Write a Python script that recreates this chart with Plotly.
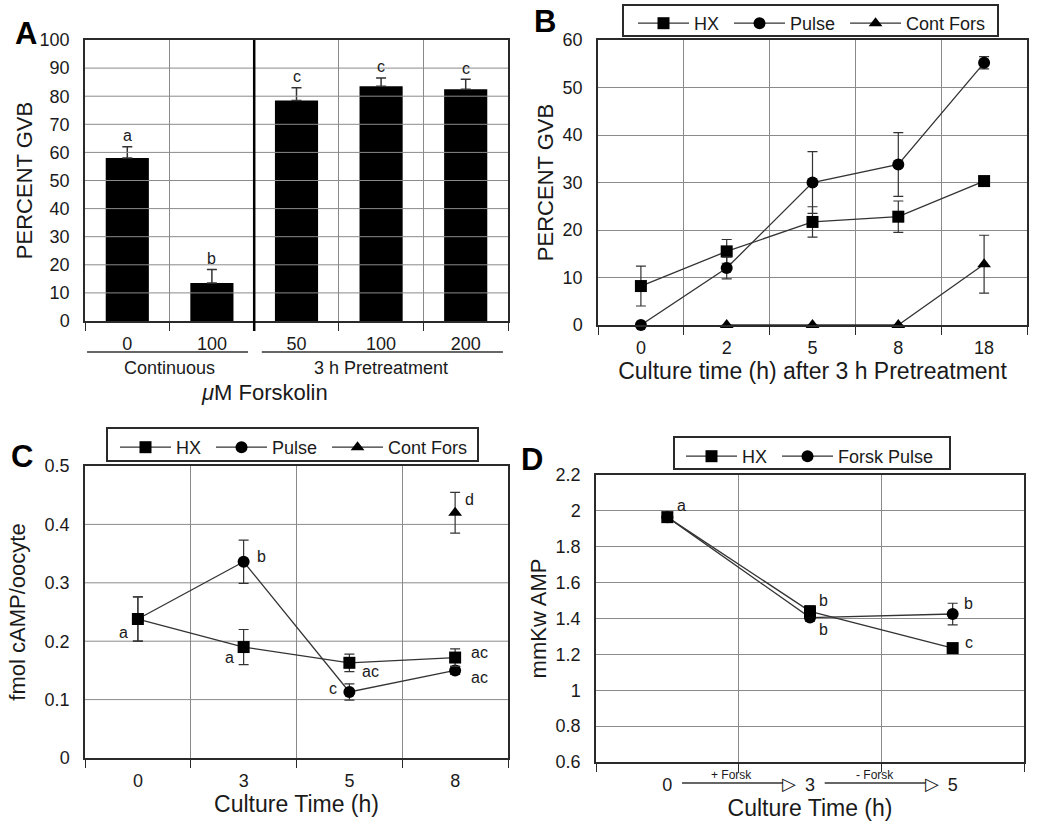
import plotly.graph_objects as go

W, H = 1047, 824
FONT = "Liberation Sans, Arial, Helvetica, sans-serif"
TXT = "#1a1a1a"
GRID = "#8a8a8a"
FRAME = "#2a2a2a"
LINE = "#333333"
NB = "\u00a0"

# ---------------- Panel A data ----------------
a_ticks = ["0", "100", "50", "100", "200"]
a_values = [58.0, 13.5, 78.5, 83.5, 82.5]
a_err = [4.0, 4.8, 4.5, 3.0, 3.5]
a_letters = ["a", "b", "c", "c", "c"]
a_groups = ["Continuous", "3 h Pretreatment"]

# ---------------- Panel B data ----------------
b_times = ["0", "2", "5", "8", "18"]
b_hx = [8.2, 15.5, 21.7, 22.8, 30.3]
b_hx_err = [4.2, 2.5, 3.2, 3.3, 0.8]
b_pulse = [0.0, 12.0, 30.0, 33.8, 55.2]
b_pulse_err = [0.0, 2.3, 6.5, 6.7, 1.3]
b_cont = [None, 0.0, 0.0, 0.0, 12.8]
b_cont_err = [0.0, 0.0, 0.0, 0.0, 6.1]

# ---------------- Panel C data ----------------
c_times = ["0", "3", "5", "8"]
c_hx = [0.238, 0.190, 0.163, 0.172]
c_hx_err = [0.038, 0.030, 0.015, 0.015]
c_pulse = [0.238, 0.336, 0.113, 0.150]
c_pulse_err = [0.038, 0.037, 0.014, 0.007]
c_cont = [None, None, None, 0.420]
c_cont_err = [0.0, 0.0, 0.0, 0.035]
c_letters = [("hx", 0, "a"), ("hx", 1, "a"), ("pulse", 1, "b"), ("hx", 2, "ac"),
             ("pulse", 2, "c"), ("hx", 3, "ac"), ("pulse", 3, "ac"), ("cont", 3, "d")]

# ---------------- Panel D data ----------------
d_times = ["0", "3", "5"]
d_hx = [1.965, 1.440, 1.235]
d_hx_err = [0.0, 0.03, 0.015]
d_pulse = [1.965, 1.405, 1.425]
d_pulse_err = [0.0, 0.02, 0.06]
d_letters = [("hx", 0, "a"), ("hx", 1, "b"), ("pulse", 1, "b"), ("pulse", 2, "b"), ("hx", 2, "c")]
d_steps = ["+ Forsk", "- Forsk"]

# y-axis settings (range, tick step) per panel
a_yrange, a_dtick = [0, 100], 10
b_yrange, b_dtick = [0, 60], 10
c_yrange, c_dtick = [0, 0.5], 0.1
d_yrange, d_dtick = [0.6, 2.2], 0.2

# label offsets (style, pixels: dx right, dy down)
c_offsets = [(-14, 13), (-14, 10), (18, -5), (21, 9), (-16, -4), (24, -5), (24, 7), (14, -13)]
d_offsets = [(14, -12), (13, -11), (13, 12), (16, -11), (16, -6)]


def px_x(p):
    return p / W


def px_y(p):
    return 1 - p / H


fig = go.Figure()


def hgrid(n_cat, yrange, dtick, xa, ya):
    """Horizontal grid lines at the y-axis tick values, spanning the category axis."""
    nsteps = int(round((yrange[1] - yrange[0]) / dtick))
    xs, ys = [], []
    for k in range(1, nsteps):
        v = yrange[0] + k * dtick
        xs += [-0.5, n_cat - 0.5, None]
        ys += [v, v, None]
    return go.Scatter(x=xs, y=ys, mode="lines", line=dict(color=GRID, width=1),
                      hoverinfo="skip", showlegend=False, xaxis=xa, yaxis=ya)


fig.add_trace(hgrid(len(a_values), a_yrange, a_dtick, "x", "y"))
fig.add_trace(hgrid(len(c_times), c_yrange, c_dtick, "x3", "y3"))

fig.add_trace(go.Bar(
    x=list(range(len(a_values))), y=a_values, width=0.51,
    marker=dict(color="black", line=dict(width=0)),
    error_y=dict(type="data", symmetric=False, array=a_err, arrayminus=[0] * len(a_err),
                 color=LINE, thickness=1.5, width=5),
    xaxis="x", yaxis="y", showlegend=False))


def series(x, y, err, name, symbol, xa, ya, legend, rank):
    return go.Scatter(
        x=x, y=y, name=name + NB, mode="lines+markers",
        line=dict(color=LINE, width=1.3),
        marker=dict(symbol=symbol, size=12, color="black"),
        error_y=dict(type="data", array=err, color=LINE, thickness=1.2, width=5),
        xaxis=xa, yaxis=ya, legend=legend, legendrank=rank, cliponaxis=False)


bx = list(range(len(b_times)))
fig.add_trace(series(bx, b_hx, b_hx_err, "HX", "square", "x2", "y2", "legend", 1))
fig.add_trace(series(bx, b_pulse, b_pulse_err, "Pulse", "circle", "x2", "y2", "legend", 2))
fig.add_trace(series(bx, b_cont, b_cont_err, "Cont Fors", "triangle-up", "x2", "y2", "legend", 3))

cx = list(range(len(c_times)))
fig.add_trace(series(cx, c_pulse, c_pulse_err, "Pulse", "circle", "x3", "y3", "legend2", 2))
fig.add_trace(series(cx, c_hx, c_hx_err, "HX", "square", "x3", "y3", "legend2", 1))
fig.add_trace(series(cx, c_cont, c_cont_err, "Cont Fors", "triangle-up", "x3", "y3", "legend2", 3))

dx = list(range(len(d_times)))
fig.add_trace(series(dx, d_pulse, d_pulse_err, "Forsk Pulse", "circle", "x4", "y4", "legend3", 2))
fig.add_trace(series(dx, d_hx, d_hx_err, "HX", "square", "x4", "y4", "legend3", 1))


def xaxis_cfg(dom, n, ticktext, standoff=6):
    return dict(
        domain=[px_x(dom[0]), px_x(dom[1])], range=[-0.5, n - 0.5],
        tickmode="array", tickvals=list(range(n)), ticktext=ticktext,
        ticks="", showgrid=False, zeroline=False,
        showline=True, mirror=True, linecolor=FRAME, linewidth=1.5,
        tickfont=dict(family=FONT, size=18, color=TXT),
        ticklabelstandoff=standoff,
        minor=dict(tickmode="array", tickvals=[k - 0.5 for k in range(n + 1)],
                   ticks="outside", ticklen=8, tickcolor=FRAME, tickwidth=1,
                   showgrid=True, gridcolor=GRID, gridwidth=1),
    )


def yaxis_cfg(dom, rng, dtick, anchor, grid=True):
    return dict(
        domain=[px_y(dom[1]), px_y(dom[0])], range=rng, dtick=dtick,
        ticks="", ticksuffix=NB * 2,
        showgrid=grid, gridcolor=GRID, gridwidth=1, zeroline=False,
        showline=True, mirror=True, linecolor=FRAME, linewidth=1.5,
        tickfont=dict(family=FONT, size=18, color=TXT), anchor=anchor,
    )


fig.update_layout(
    width=W, height=H, margin=dict(l=0, r=0, t=0, b=0, autoexpand=False),
    paper_bgcolor="white", plot_bgcolor="white",
    font=dict(family=FONT, color=TXT),
    xaxis=dict(xaxis_cfg((85, 508), 5, a_ticks), anchor="y"),
    yaxis=dict(yaxis_cfg((40, 321), a_yrange, a_dtick, "x", grid=False),
               title=dict(text="PERCENT GVB", font=dict(size=22), standoff=1)),
    xaxis2=dict(xaxis_cfg((598, 1027), 5, b_times), anchor="y2",
                title=dict(text="Culture time (h) after 3 h Pretreatment",
                           font=dict(size=23), standoff=0)),
    yaxis2=dict(yaxis_cfg((40, 325), b_yrange, b_dtick, "x2"),
                title=dict(text="PERCENT GVB", font=dict(size=22), standoff=3)),
    xaxis3=dict(xaxis_cfg((85, 508), 4, c_times), anchor="y3",
                title=dict(text="Culture Time (h)", font=dict(size=23), standoff=0)),
    yaxis3=dict(yaxis_cfg((466, 758), c_yrange, c_dtick, "x3", grid=False),
                title=dict(text="fmol cAMP/oocyte", font=dict(size=22), standoff=13)),
    xaxis4=dict(xaxis_cfg((596, 1024), 3, d_times), anchor="y4",
                title=dict(text="Culture Time (h)", font=dict(size=23), standoff=2)),
    yaxis4=dict(yaxis_cfg((475, 762), d_yrange, d_dtick, "x4"),
                title=dict(text="mmKw AMP", font=dict(size=22), standoff=3)),
)

legend_common = dict(orientation="h", bgcolor="rgba(0,0,0,0)", borderwidth=0,
                     font=dict(family=FONT, size=18, color=TXT), xanchor="left", yanchor="top",
                     itemwidth=51, traceorder="normal")
legend_boxes = [(623, 5, 998, 36), (107, 428, 478, 461), (674, 437, 950, 469)]
legend_anchor = [(638, 20), (120, 444), (686, 453)]
fig.update_layout(
    legend=dict(legend_common, x=px_x(legend_anchor[0][0] - 5), y=px_y(legend_anchor[0][1] - 15)),
    legend2=dict(legend_common, x=px_x(legend_anchor[1][0] - 5), y=px_y(legend_anchor[1][1] - 15)),
    legend3=dict(legend_common, x=px_x(legend_anchor[2][0] - 5), y=px_y(legend_anchor[2][1] - 15)),
)

ann = []
shapes = []

for (x0, y0, x1, y1) in legend_boxes:
    shapes.append(dict(type="rect", xref="paper", yref="paper", x0=px_x(x0), x1=px_x(x1),
                       y0=px_y(y1), y1=px_y(y0), line=dict(color=FRAME, width=2)))

for t, (x, y) in zip(["A", "B", "C", "D"], [(26, 33), (545, 22), (22, 456), (532, 459)]):
    ann.append(dict(text="<b>%s</b>" % t, x=px_x(x), y=px_y(y), xref="paper", yref="paper",
                    showarrow=False, font=dict(size=31, family=FONT, color="black"),
                    xanchor="center", yanchor="middle"))

for i, (v, e, t) in enumerate(zip(a_values, a_err, a_letters)):
    ann.append(dict(text=t, x=i, y=v + e, xref="x", yref="y", yshift=11, showarrow=False,
                    font=dict(size=16, family=FONT, color=TXT), yanchor="middle"))

shapes.append(dict(type="line", xref="x", yref="paper", x0=1.5, x1=1.5,
                   y0=px_y(331), y1=px_y(40), line=dict(color="black", width=2.5)))
for (x0, x1), g, xc in zip([(-0.476, 1.427), (1.59, 4.44)], a_groups, [0.5, 3.0]):
    shapes.append(dict(type="line", xref="x", yref="paper", x0=x0, x1=x1,
                       y0=px_y(352), y1=px_y(352), line=dict(color=LINE, width=1.3)))
    ann.append(dict(text=g, x=xc, y=px_y(368), xref="x", yref="paper", showarrow=False,
                    xanchor="center", font=dict(size=18, family=FONT, color=TXT), yanchor="middle"))
ann.append(dict(text="<i>μ</i>M Forskolin", x=px_x(264), y=px_y(392), xref="paper", yref="paper",
                showarrow=False, xanchor="center", yanchor="middle",
                font=dict(size=22, family=FONT, color=TXT)))

c_series = {"hx": c_hx, "pulse": c_pulse, "cont": c_cont}
for (s, i, t), (ox, oy) in zip(c_letters, c_offsets):
    ann.append(dict(text=t, x=i, y=c_series[s][i], xref="x3", yref="y3", xshift=ox, yshift=-oy,
                    showarrow=False, font=dict(size=16, family=FONT, color=TXT)))

d_series = {"hx": d_hx, "pulse": d_pulse}
for (s, i, t), (ox, oy) in zip(d_letters, d_offsets):
    ann.append(dict(text=t, x=i, y=d_series[s][i], xref="x4", yref="y4", xshift=ox, yshift=-oy,
                    showarrow=False, font=dict(size=16, family=FONT, color=TXT)))

for k, step in enumerate(d_steps):
    x0, x1 = k + 0.103, k + 0.81
    shapes.append(dict(type="line", xref="x4", yref="paper", x0=x0, x1=x1,
                       y0=px_y(783), y1=px_y(783), line=dict(color=LINE, width=1.5)))
    ann.append(dict(text="▷", x=x1, y=px_y(783), xref="x4", yref="paper", showarrow=False,
                    xanchor="left", yanchor="middle", xshift=-3,
                    font=dict(size=18, family="DejaVu Sans", color=TXT)))
    ann.append(dict(text=step, x=k + 0.453, y=px_y(775), xref="x4", yref="paper", showarrow=False,
                    xanchor="center", yanchor="middle", font=dict(size=12, family=FONT, color=TXT)))

fig.update_layout(annotations=ann, shapes=shapes)

fig.write_html("out.html")
